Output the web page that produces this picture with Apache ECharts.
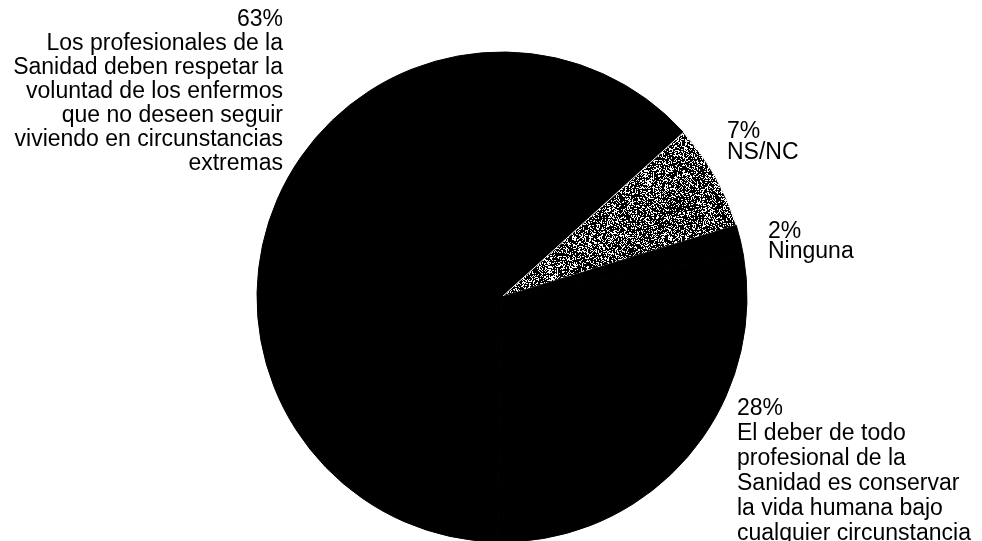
<!DOCTYPE html>
<html lang="es">
<head>
	<meta charset="UTF-8">
	<title>Opinión sobre la eutanasia</title>
	<script src="https://cdn.jsdelivr.net/npm/echarts@6/dist/echarts.min.js"></script>
	<style>
		html, body { margin: 0; padding: 0; background: #fff; }
		#main { width: 982px; height: 541px; }
	</style>
</head>
<body>
	<div id="main"></div>
	<script>
		// datos
		var categorias = [
			'Los profesionales de la\nSanidad deben respetar la\nvoluntad de los enfermos\nque no deseen seguir\nviviendo en circunstancias\nextremas',
			'NS/NC',
			'Ninguna',
			'El deber de todo\nprofesional de la\nSanidad es conservar\nla vida humana bajo\ncualquier circunstancia'
		];
		var porcentajes = [63, 7, 2, 28];

		// donde va cada etiqueta (x, y, alineacion, interlineado)
		var etiquetas = [
			{ x: 283, y: 8, align: 'right', lh: 24 },
			{ x: 727, y: 121, align: 'left', lh: 21 },
			{ x: 768, y: 222, align: 'left', lh: 20 },
			{ x: 737, y: 396, align: 'left', lh: 25 }
		];

		// trama punteada para el sector NS/NC
		function trama() {
			var c = document.createElement('canvas');
			c.width = 96; c.height = 96;
			var ctx = c.getContext('2d');
			ctx.fillStyle = '#000';
			ctx.fillRect(0, 0, 96, 96);
			ctx.fillStyle = '#fff';
			var s = 12345;
			for (var i = 0; i < 96 * 96; i++) {
				s = (s * 1103515245 + 12345) & 0x7fffffff;
				if ((s % 100) < 30) ctx.fillRect(i % 96, Math.floor(i / 96), 1, 1);
			}
			return c;
		}

		var datos = porcentajes.map(function (v, i) {
			var d = {
				name: categorias[i],
				value: v,
				label: { lineHeight: etiquetas[i].lh, align: etiquetas[i].align }
			};
			if (i === 1) {
				d.itemStyle = { color: { image: trama(), repeat: 'repeat' }, borderColor: '#fff', borderWidth: 1 };
			}
			return d;
		});

		var myChart = echarts.init(document.getElementById('main'));
		myChart.setOption({
			animation: false,
			series: [{
				type: 'pie',
				center: [502, 297],
				radius: 245,
				startAngle: 269,
				clockwise: true,
				avoidLabelOverlap: false,
				itemStyle: { color: '#000', borderColor: '#000', borderWidth: 1 },
				emphasis: { disabled: true },
				label: {
					show: true,
					position: 'outside',
					color: '#000',
					fontSize: 23,
					fontFamily: 'Liberation Sans, Arial, sans-serif',
					formatter: function (p) { return p.value + '%\n' + p.name; }
				},
				labelLine: { show: false },
				labelLayout: function (p) {
					var e = etiquetas[p.dataIndex];
					return { x: e.x, y: e.y, align: e.align, verticalAlign: 'top' };
				},
				data: datos
			}]
		});
	</script>
</body>
</html>
